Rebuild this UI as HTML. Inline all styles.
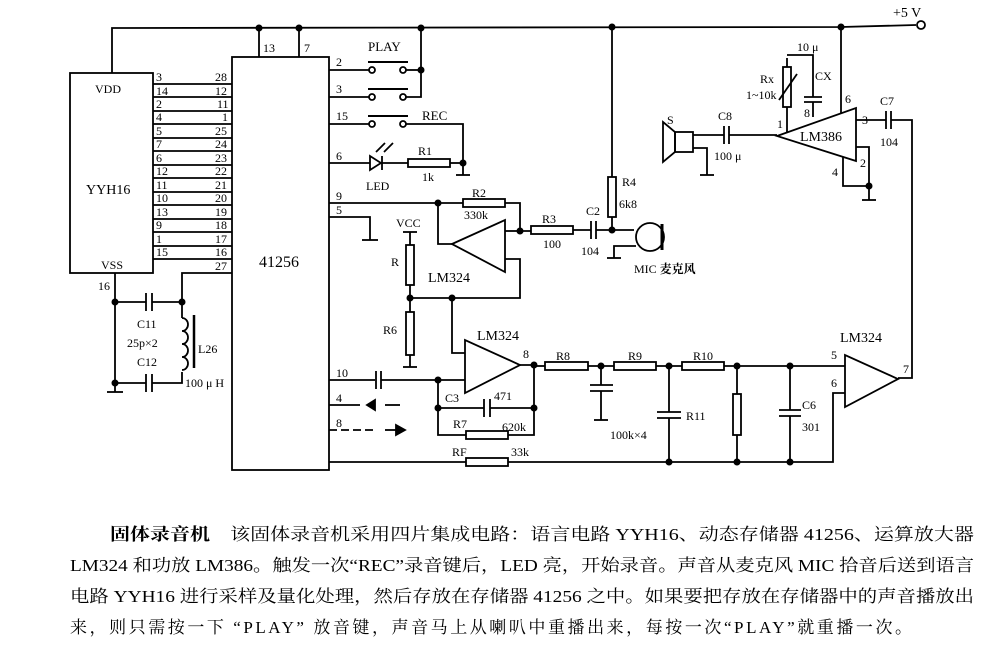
<!DOCTYPE html>
<html><head><meta charset="utf-8">
<style>
html,body{margin:0;padding:0;background:#fff;}
svg{display:block;}
text{font-family:"Liberation Serif","Noto Serif CJK SC",serif;fill:#000;}
</style></head><body>
<svg width="1003" height="651" viewBox="0 0 1003 651" xmlns="http://www.w3.org/2000/svg">
<g stroke="#000" stroke-width="1.8" fill="none">
<polyline points="112,73 112,28 841,27 916,25"/>
<circle cx="921" cy="25" r="4" fill="#fff"/>
<rect x="70" y="73" width="83" height="200"/>
<rect x="232" y="57" width="97" height="413"/>
<line x1="259" y1="28" x2="259" y2="57"/>
<line x1="299" y1="28" x2="299" y2="57"/>
<line x1="153" y1="84" x2="232" y2="84"/>
<line x1="153" y1="97" x2="232" y2="97"/>
<line x1="153" y1="111" x2="232" y2="111"/>
<line x1="153" y1="124" x2="232" y2="124"/>
<line x1="153" y1="138" x2="232" y2="138"/>
<line x1="153" y1="151" x2="232" y2="151"/>
<line x1="153" y1="165" x2="232" y2="165"/>
<line x1="153" y1="178" x2="232" y2="178"/>
<line x1="153" y1="192" x2="232" y2="192"/>
<line x1="153" y1="205" x2="232" y2="205"/>
<line x1="153" y1="219" x2="232" y2="219"/>
<line x1="153" y1="232" x2="232" y2="232"/>
<line x1="153" y1="246" x2="232" y2="246"/>
<line x1="153" y1="259" x2="232" y2="259"/>
<polyline points="232,273 182,273 182,318"/>
<polyline points="115,273 115,392"/>
<line x1="107" y1="392" x2="123" y2="392"/>
<line x1="115" y1="302" x2="146" y2="302"/>
<line x1="152" y1="302" x2="182" y2="302"/>
<line x1="146" y1="293" x2="146" y2="311"/>
<line x1="152" y1="293" x2="152" y2="311"/>
<line x1="115" y1="383" x2="146" y2="383"/>
<polyline points="152,383 182,383 182,372"/>
<line x1="146" y1="374" x2="146" y2="392"/>
<line x1="152" y1="374" x2="152" y2="392"/>
<path d="M182,318 a6,6.5 0 0 1 0,13 a6,6.5 0 0 1 0,13 a6,6.5 0 0 1 0,13 a6,6.5 0 0 1 0,13"/>
<line x1="194" y1="315" x2="194" y2="368" stroke-width="2.5"/>
<line x1="329" y1="70" x2="369" y2="70"/>
<line x1="329" y1="97" x2="369" y2="97"/>
<line x1="329" y1="124" x2="369" y2="124"/>
<circle cx="372" cy="70" r="3" fill="#fff"/><circle cx="403" cy="70" r="3" fill="#fff"/>
<circle cx="372" cy="97" r="3" fill="#fff"/><circle cx="403" cy="97" r="3" fill="#fff"/>
<circle cx="372" cy="124" r="3" fill="#fff"/><circle cx="403" cy="124" r="3" fill="#fff"/>
<line x1="368" y1="62" x2="408" y2="62" stroke-width="2"/>
<line x1="368" y1="89" x2="408" y2="89" stroke-width="2"/>
<line x1="368" y1="116" x2="408" y2="116" stroke-width="2"/>
<polyline points="406,70 421,70"/>
<polyline points="421,28 421,97 406,97"/>
<polyline points="406,124 463,124 463,175"/>
<line x1="456" y1="175" x2="470" y2="175"/>
<line x1="329" y1="163" x2="370" y2="163"/>
<polygon points="370,156 370,170 381,163" fill="#fff"/>
<line x1="382" y1="156" x2="382" y2="170"/>
<line x1="382" y1="163" x2="408" y2="163"/>
<line x1="376" y1="152" x2="385" y2="143"/><line x1="384" y1="152" x2="393" y2="143"/>
<rect x="408" y="159" width="42" height="8" fill="#fff"/>
<line x1="450" y1="163" x2="463" y2="163"/>
<line x1="329" y1="203" x2="463" y2="203"/>
<rect x="463" y="199" width="42" height="8" fill="#fff"/>
<polyline points="505,203 520,203 520,231 531,231"/>
<polygon points="452,244 505,220 505,272"/>
<line x1="505" y1="231" x2="520" y2="231"/>
<polyline points="438,203 438,244 452,244"/>
<polyline points="505,259 520,259 520,298 410,298"/>
<polyline points="329,217 370,217 370,240"/>
<line x1="362" y1="240" x2="378" y2="240"/>
<line x1="403" y1="232" x2="417" y2="232"/>
<line x1="410" y1="232" x2="410" y2="245"/>
<rect x="406" y="245" width="8" height="40" fill="#fff"/>
<line x1="410" y1="285" x2="410" y2="312"/>
<rect x="406" y="312" width="8" height="43" fill="#fff"/>
<line x1="410" y1="355" x2="410" y2="367"/>
<line x1="403" y1="367" x2="417" y2="367"/>
<polyline points="452,298 452,353 465,353"/>
<polygon points="465,340 465,393 520,365"/>
<line x1="329" y1="380" x2="375" y2="380"/>
<line x1="376" y1="371" x2="376" y2="389"/><line x1="381" y1="371" x2="381" y2="389"/>
<line x1="381" y1="380" x2="465" y2="380"/>
<polyline points="438,380 438,435 466,435"/>
<rect x="466" y="431" width="42" height="8" fill="#fff"/>
<polyline points="508,435 534,435 534,365 520,365"/>
<line x1="438" y1="408" x2="484" y2="408"/>
<line x1="490" y1="408" x2="534" y2="408"/>
<line x1="484" y1="399" x2="484" y2="417"/><line x1="490" y1="399" x2="490" y2="417"/>
<line x1="329" y1="405" x2="360" y2="405"/>
<line x1="385" y1="405" x2="400" y2="405"/>
<polygon points="375,400 375,410 367,405" fill="#000"/>
<line x1="329" y1="430" x2="375" y2="430" stroke-dasharray="8,4"/>
<line x1="385" y1="430" x2="396" y2="430"/>
<polygon points="396,425 396,435 405,430" fill="#000"/>
<line x1="329" y1="462" x2="466" y2="462"/>
<rect x="466" y="458" width="42" height="8" fill="#fff"/>
<polyline points="508,462 833,462 833,393 845,393"/>
<rect x="531" y="226" width="42" height="8" fill="#fff"/>
<line x1="573" y1="230" x2="591" y2="230"/>
<line x1="591" y1="221" x2="591" y2="239"/><line x1="596" y1="221" x2="596" y2="239"/>
<line x1="596" y1="230" x2="634" y2="230"/>
<line x1="612" y1="27" x2="612" y2="177"/>
<rect x="608" y="177" width="8" height="40" fill="#fff"/>
<line x1="612" y1="217" x2="612" y2="230"/>
<circle cx="650" cy="237" r="14"/>
<line x1="662" y1="224" x2="662" y2="250" stroke-width="3"/>
<polyline points="636,246 614,246 614,258"/>
<line x1="607" y1="258" x2="621" y2="258"/>
<rect x="675" y="132" width="18" height="20"/>
<polygon points="663,122 675,132 675,152 663,162"/>
<polyline points="693,135 724,135"/>
<line x1="724" y1="126" x2="724" y2="144"/><line x1="729" y1="126" x2="729" y2="144"/>
<line x1="729" y1="135" x2="777" y2="135"/>
<polyline points="693,148 707,148 707,175"/>
<line x1="700" y1="175" x2="714" y2="175"/>
<polygon points="777,136 856,108 856,161"/>
<line x1="787" y1="58" x2="787" y2="132"/>
<rect x="783" y="67" width="8" height="40" fill="#fff"/>
<line x1="779" y1="100" x2="797" y2="74"/>
<polyline points="787,55 813,55 813,97"/>
<line x1="804" y1="97" x2="822" y2="97"/><line x1="804" y1="102" x2="822" y2="102"/>
<line x1="813" y1="102" x2="813" y2="117"/>
<line x1="841" y1="27" x2="841" y2="113"/>
<line x1="856" y1="120" x2="886" y2="120"/>
<line x1="886" y1="111" x2="886" y2="129"/><line x1="891" y1="111" x2="891" y2="129"/>
<polyline points="891,120 912,120 912,378 898,378"/>
<polyline points="856,147 869,147 869,200"/>
<polyline points="843,157 843,186 869,186"/>
<line x1="862" y1="200" x2="876" y2="200"/>
<line x1="534" y1="366" x2="545" y2="366"/>
<rect x="545" y="362" width="43" height="8" fill="#fff"/>
<line x1="588" y1="366" x2="614" y2="366"/>
<rect x="614" y="362" width="42" height="8" fill="#fff"/>
<line x1="656" y1="366" x2="682" y2="366"/>
<rect x="682" y="362" width="42" height="8" fill="#fff"/>
<line x1="724" y1="366" x2="845" y2="366"/>
<line x1="601" y1="366" x2="601" y2="385"/>
<line x1="590" y1="385" x2="613" y2="385"/><line x1="590" y1="391" x2="613" y2="391"/>
<line x1="601" y1="391" x2="601" y2="420"/><line x1="594" y1="420" x2="608" y2="420"/>
<line x1="669" y1="366" x2="669" y2="412"/>
<line x1="657" y1="412" x2="681" y2="412"/><line x1="657" y1="418" x2="681" y2="418"/>
<line x1="669" y1="418" x2="669" y2="462"/>
<line x1="737" y1="366" x2="737" y2="394"/>
<rect x="733" y="394" width="8" height="41" fill="#fff"/>
<line x1="737" y1="435" x2="737" y2="462"/>
<line x1="790" y1="366" x2="790" y2="410"/>
<line x1="779" y1="410" x2="801" y2="410"/><line x1="779" y1="416" x2="801" y2="416"/>
<line x1="790" y1="416" x2="790" y2="462"/>
<polygon points="845,355 845,407 898,379"/>
</g>
<g fill="#000">
<circle cx="259" cy="28" r="3.5"/><circle cx="299" cy="28" r="3.5"/><circle cx="421" cy="28" r="3.5"/>
<circle cx="612" cy="27" r="3.5"/><circle cx="841" cy="27" r="3.5"/>
<circle cx="115" cy="302" r="3.5"/><circle cx="182" cy="302" r="3.5"/><circle cx="115" cy="383" r="3.5"/>
<circle cx="421" cy="70" r="3.5"/><circle cx="463" cy="163" r="3.5"/>
<circle cx="438" cy="203" r="3.5"/><circle cx="520" cy="231" r="3.5"/><circle cx="612" cy="230" r="3.5"/>
<circle cx="410" cy="298" r="3.5"/><circle cx="452" cy="298" r="3.5"/>
<circle cx="438" cy="380" r="3.5"/><circle cx="438" cy="408" r="3.5"/><circle cx="534" cy="365" r="3.5"/><circle cx="534" cy="408" r="3.5"/>
<circle cx="601" cy="366" r="3.5"/><circle cx="669" cy="366" r="3.5"/><circle cx="737" cy="366" r="3.5"/><circle cx="790" cy="366" r="3.5"/>
<circle cx="669" cy="462" r="3.5"/><circle cx="737" cy="462" r="3.5"/><circle cx="790" cy="462" r="3.5"/>
<circle cx="869" cy="186" r="3.5"/>
</g>
<g font-size="12">
<text x="893" y="17" font-size="14">+5 V</text>
<text x="95" y="93">VDD</text><text x="86" y="194" font-size="14">YYH16</text><text x="101" y="269">VSS</text>
<text x="98" y="290">16</text>
<text x="263" y="52">13</text><text x="304" y="52">7</text>
<text x="259" y="267" font-size="16">41256</text>
<text x="156" y="81">3</text><text x="215" y="81">28</text>
<text x="156" y="95">14</text><text x="215" y="95">12</text>
<text x="156" y="108">2</text><text x="217" y="108">11</text>
<text x="156" y="121">4</text><text x="222" y="121">1</text>
<text x="156" y="135">5</text><text x="215" y="135">25</text>
<text x="156" y="148">7</text><text x="215" y="148">24</text>
<text x="156" y="162">6</text><text x="215" y="162">23</text>
<text x="156" y="175">12</text><text x="215" y="175">22</text>
<text x="156" y="189">11</text><text x="215" y="189">21</text>
<text x="156" y="202">10</text><text x="215" y="202">20</text>
<text x="156" y="216">13</text><text x="215" y="216">19</text>
<text x="156" y="229">9</text><text x="215" y="229">18</text>
<text x="156" y="243">1</text><text x="215" y="243">17</text>
<text x="156" y="256">15</text><text x="215" y="256">16</text>
<text x="215" y="270">27</text>
<text x="137" y="328">C11</text><text x="127" y="347">25p×2</text><text x="137" y="366">C12</text>
<text x="198" y="353">L26</text><text x="185" y="387">100 μ H</text>
<text x="336" y="66">2</text><text x="336" y="93">3</text><text x="336" y="120">15</text><text x="336" y="160">6</text>
<text x="336" y="200">9</text><text x="336" y="214">5</text>
<text x="336" y="377">10</text><text x="336" y="402">4</text><text x="336" y="427">8</text>
<text x="368" y="51" font-size="13">PLAY</text><text x="422" y="120" font-size="13">REC</text>
<text x="418" y="155">R1</text><text x="422" y="181">1k</text><text x="366" y="190">LED</text>
<text x="472" y="197">R2</text><text x="464" y="219">330k</text>
<text x="396" y="227">VCC</text><text x="391" y="266">R</text><text x="383" y="334">R6</text>
<text x="428" y="282" font-size="14">LM324</text><text x="477" y="340" font-size="14">LM324</text>
<text x="523" y="358">8</text>
<text x="445" y="402">C3</text><text x="494" y="400">471</text><text x="453" y="428">R7</text><text x="502" y="431">620k</text>
<text x="452" y="456">RF</text><text x="511" y="456">33k</text>
<text x="542" y="223">R3</text><text x="543" y="248">100</text>
<text x="586" y="215">C2</text><text x="581" y="255">104</text>
<text x="622" y="186">R4</text><text x="619" y="208">6k8</text>
<text x="634" y="273">MIC <tspan font-weight="bold">麦克风</tspan></text>
<text x="667" y="124">S</text><text x="718" y="120">C8</text><text x="714" y="160">100 μ</text>
<text x="797" y="51">10 μ</text><text x="815" y="80">CX</text>
<text x="760" y="83">Rx</text><text x="746" y="99">1~10k</text>
<text x="777" y="128">1</text><text x="804" y="117">8</text><text x="845" y="103">6</text>
<text x="800" y="141" font-size="14">LM386</text>
<text x="862" y="124">3</text><text x="860" y="167">2</text><text x="832" y="176">4</text>
<text x="880" y="105">C7</text><text x="880" y="146">104</text>
<text x="556" y="360">R8</text><text x="628" y="360">R9</text><text x="693" y="360">R10</text>
<text x="686" y="420">R11</text><text x="610" y="439">100k×4</text>
<text x="802" y="409">C6</text><text x="802" y="431">301</text>
<text x="831" y="359">5</text><text x="831" y="387">6</text><text x="903" y="373">7</text>
<text x="840" y="342" font-size="14">LM324</text>
</g>
<g font-size="17">
<text x="110" y="540" textLength="864" lengthAdjust="spacingAndGlyphs"><tspan font-weight="bold">固体录音机</tspan>　该固体录音机采用四片集成电路：语言电路 YYH16、动态存储器 41256、运算放大器</text>
<text x="70" y="571" textLength="904" lengthAdjust="spacingAndGlyphs">LM324 和功放 LM386。触发一次“REC”录音键后，LED 亮，开始录音。声音从麦克风 MIC 拾音后送到语言</text>
<text x="70" y="602" textLength="904" lengthAdjust="spacingAndGlyphs">电路 YYH16 进行采样及量化处理，然后存放在存储器 41256 之中。如果要把存放在存储器中的声音播放出</text>
<text x="70" y="633" textLength="842" lengthAdjust="spacing">来，则只需按一下 “PLAY” 放音键，声音马上从喇叭中重播出来，每按一次“PLAY”就重播一次。</text>
</g>
</svg>
</body></html>
